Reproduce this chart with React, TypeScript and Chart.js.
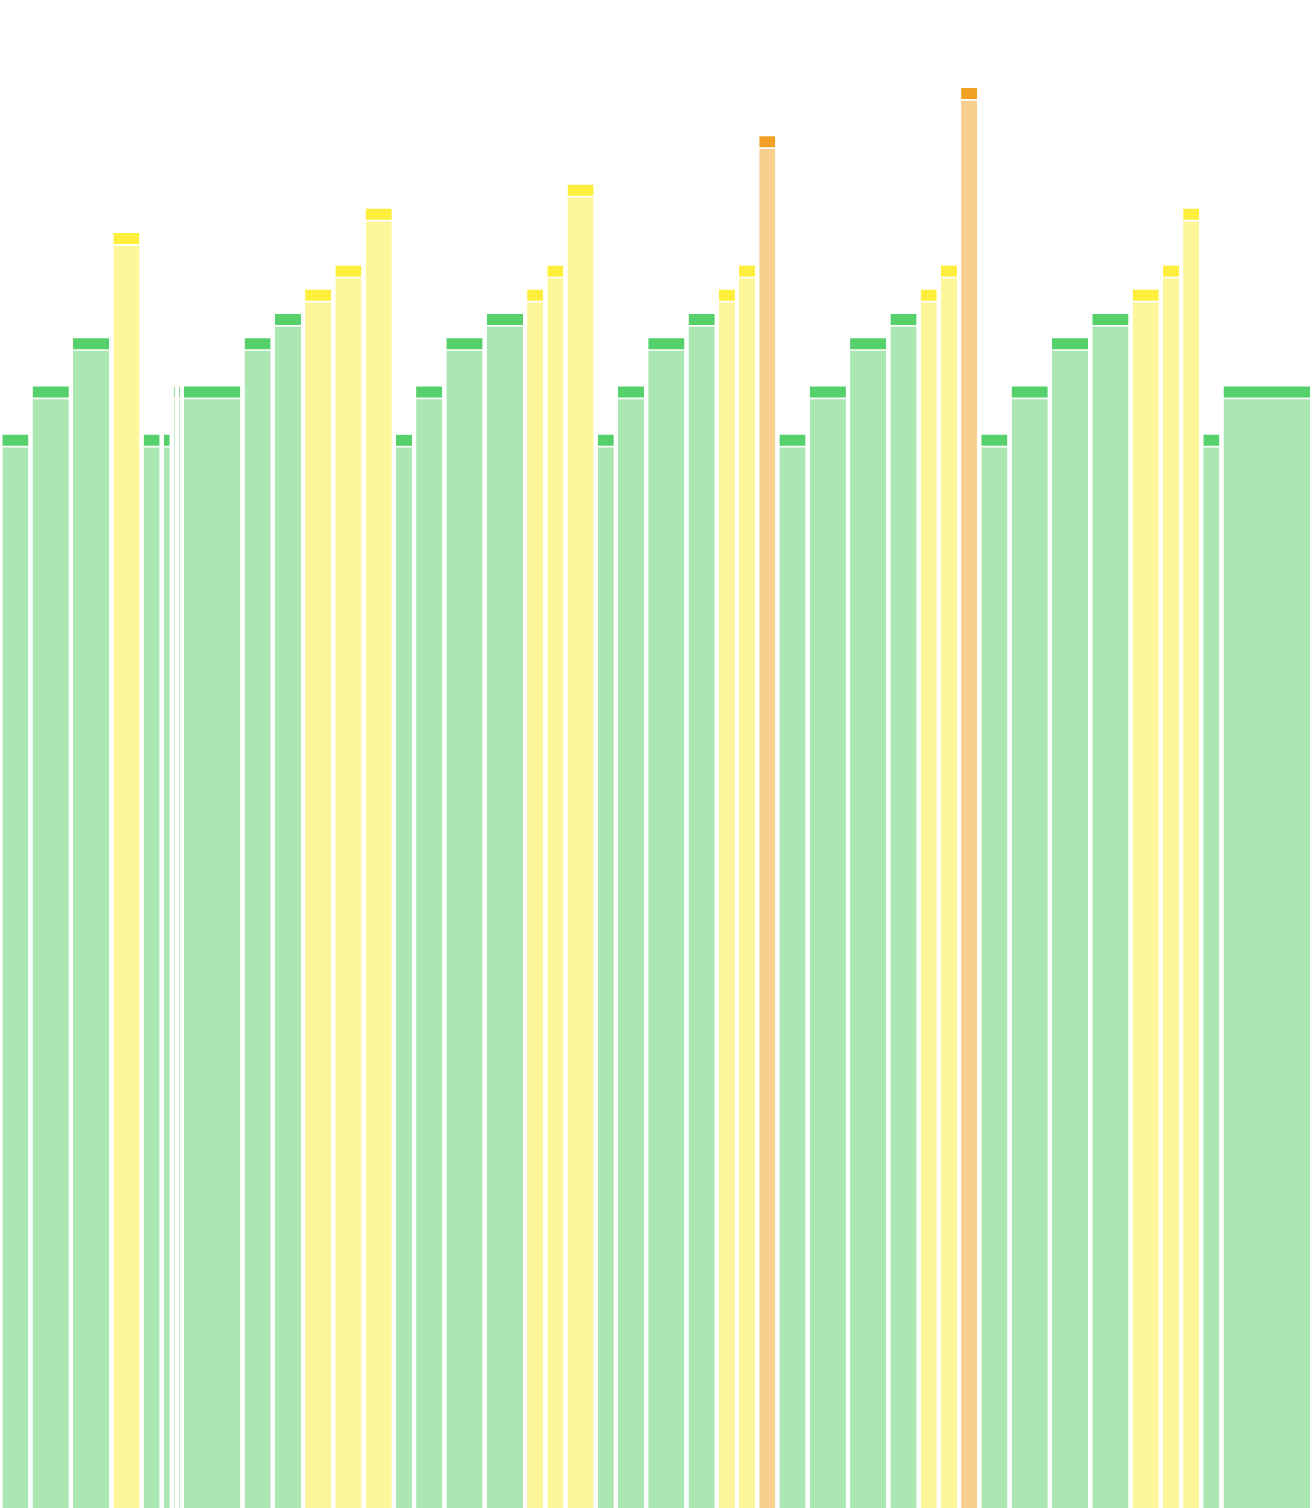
import { useEffect, useRef } from 'react'
import { Chart, registerables, type ChartDataset } from 'chart.js'

Chart.register(...registerables)

// length of each segment, in intervals (x axis)
const durations = [
  3, 4, 4, 3, 2, 1, 0.5, 0.5, 6, 3, 3, 3, 3, 3, 2, 3, 4, 4, 2, 2, 3, 2,
  3, 4, 3, 2, 2, 2, 3, 4, 4, 3, 2, 2, 2, 3, 4, 4, 4, 3, 2, 2, 2, 9,
]

// effort level of each segment (y axis)
const levels = [
  44.4, 46.4, 48.4, 52.75, 44.4, 44.4, 46.4, 46.4, 46.4, 48.4, 49.4, 50.4, 51.4, 53.75, 44.4,
  46.4, 48.4, 49.4, 50.4, 51.4, 54.75, 44.4, 46.4, 48.4, 49.4, 50.4, 51.4, 56.75, 44.4, 46.4,
  48.4, 49.4, 50.4, 51.4, 58.75, 44.4, 46.4, 48.4, 49.4, 50.4, 51.4, 53.75, 44.4, 46.4,
]

type Zone = 'easy' | 'moderate' | 'hard'

const zones: Zone[] = [
  'easy', 'easy', 'easy', 'moderate', 'easy', 'easy', 'easy', 'easy', 'easy', 'easy', 'easy',
  'moderate', 'moderate', 'moderate', 'easy', 'easy', 'easy', 'easy', 'moderate', 'moderate',
  'moderate', 'easy', 'easy', 'easy', 'easy', 'moderate', 'moderate', 'hard', 'easy', 'easy',
  'easy', 'easy', 'moderate', 'moderate', 'hard', 'easy', 'easy', 'easy', 'easy', 'moderate',
  'moderate', 'moderate', 'easy', 'easy',
]

const zoneColors: Record<Zone, { body: string; cap: string }> = {
  easy: { body: '#abe7b3', cap: '#55d06b' },
  moderate: { body: '#fdf69b', cap: '#ffee3c' },
  hard: { body: '#f7d090', cap: '#f2a024' },
}

const X_MAX = 130
const Y_MAX = 62.39
const CAP = 0.455 // cap thickness in level units
const CAP_GAP = 0.07
const INSET_L = 0.23
const INSET_R = 0.18

export default function App() {
  const canvasRef = useRef<HTMLCanvasElement>(null)

  useEffect(() => {
    if (!canvasRef.current) return
    const datasets: ChartDataset<'line', { x: number; y: number }[]>[] = []
    let start = 0
    durations.forEach((d, i) => {
      const x0 = start + INSET_L
      const x1 = start + d - INSET_R
      start += d
      const v = levels[i]
      const c = zoneColors[zones[i]]
      const bodyTop = v - CAP - CAP_GAP
      datasets.push({
        data: [{ x: x0, y: bodyTop }, { x: x1, y: bodyTop }],
        backgroundColor: c.body,
        borderWidth: 0,
        pointRadius: 0,
        fill: 'origin',
      })
      datasets.push({
        data: [{ x: x0, y: v }, { x: x1, y: v }],
        backgroundColor: c.cap,
        borderWidth: 0,
        pointRadius: 0,
        fill: { value: v - CAP },
      })
    })

    const chart = new Chart(canvasRef.current, {
      type: 'line',
      data: { datasets },
      options: {
        animation: false,
        responsive: true,
        maintainAspectRatio: false,
        layout: { padding: 0 },
        plugins: { legend: { display: false }, tooltip: { enabled: false } },
        scales: {
          x: { type: 'linear', min: 0, max: X_MAX, display: false },
          y: { type: 'linear', min: 0, max: Y_MAX, display: false },
        },
      },
    })
    return () => chart.destroy()
  }, [])

  return (
    <div style={{ position: 'absolute', left: 0, top: 0, width: 1312, height: 1508, background: '#fff' }}>
      <canvas ref={canvasRef} />
    </div>
  )
}
